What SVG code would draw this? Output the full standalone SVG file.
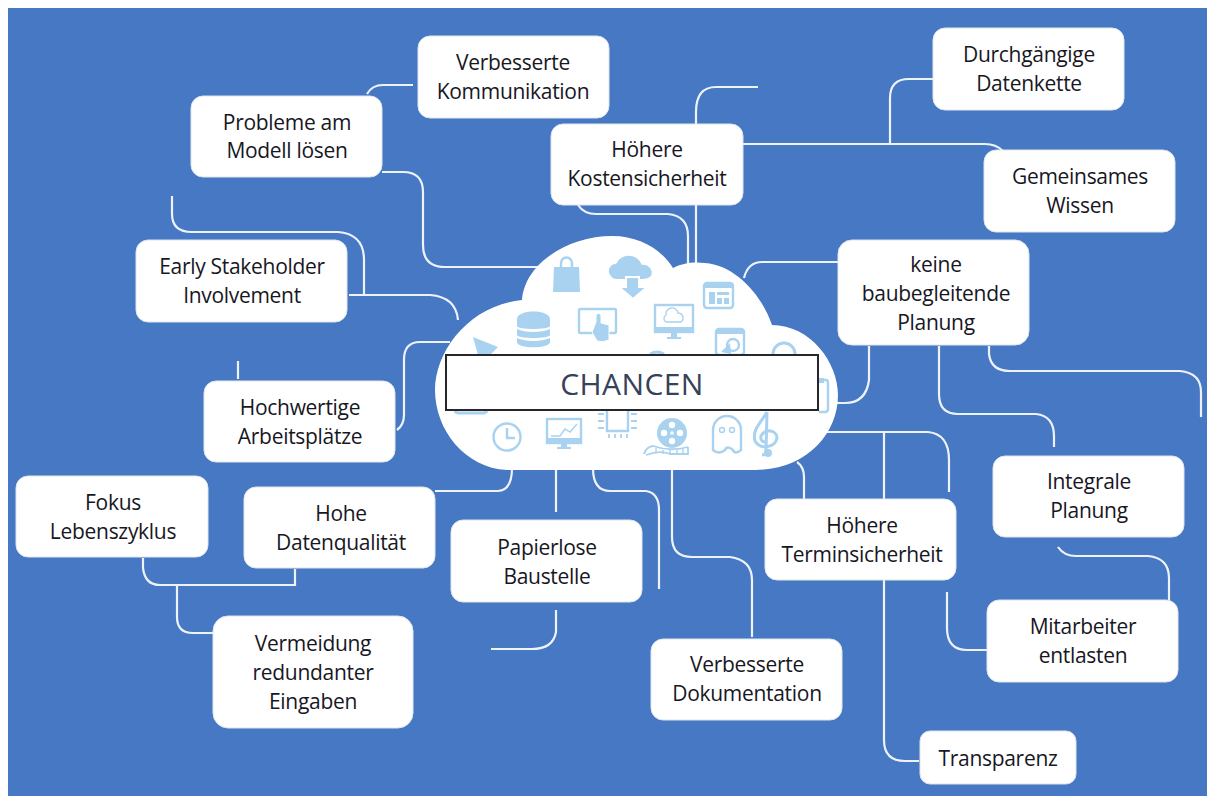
<svg xmlns="http://www.w3.org/2000/svg" width="1215" height="796" viewBox="0 0 1215 796">
<style>
.c{fill:none;stroke:#eef3fb;stroke-width:2.2;stroke-linecap:butt}
.b{fill:#fff;stroke:#dfe5ee;stroke-width:1}
text{font-family:"Open Sans","Noto Sans","Liberation Sans",sans-serif;font-size:21px;letter-spacing:-.3px;fill:#17171f;text-anchor:middle}
.i{fill:none;stroke:#a8d2f0;stroke-width:2.4}
.f{fill:#a8d2f0}
.w{fill:#fff}
</style>
<rect width="1215" height="796" fill="#fff"/>
<rect x="8" y="8" width="1199" height="788" fill="#4678c4"/>
<g id="connectors">
<path class="c" d="M367,94Q372,85 383,85H413"/>
<path class="c" d="M382,172H403Q423,172 423,192V245Q423,267 445,267H540"/>
<path class="c" d="M172,196V214Q172,232 192,232H338Q364,234 364,260V295"/>
<path class="c" d="M349,295H430Q456,297 458,320"/>
<path class="c" d="M397,430Q404,425 404,415V360Q404,342 420,342H450"/>
<path class="c" d="M238,361V379"/>
<path class="c" d="M435,491H498Q512,490 512,468"/>
<path class="c" d="M556,468V512"/>
<path class="c" d="M593,468Q593,491 610,491H646Q659,493 659,510V589"/>
<path class="c" d="M672,468V537Q672,557 692,557H730Q752,560 752,580V637"/>
<path class="c" d="M797,462Q804,467 804,477V499"/>
<path class="c" d="M556,610V632Q553,649 532,649H491"/>
<path class="c" d="M826,432H928Q949,434 949,460V492"/>
<path class="c" d="M884,432V500"/>
<path class="c" d="M884,580V740Q884,761 905,761H919"/>
<path class="c" d="M947,592V628Q947,650 967,650H987"/>
<path class="c" d="M1058,547Q1064,556 1076,556H1148Q1169,558 1169,578V600"/>
<path class="c" d="M939,346V394Q939,414 958,414H1036Q1054,416 1054,436V447"/>
<path class="c" d="M989,346V354Q991,371 1010,371H1180Q1201,373 1201,392V417"/>
<path class="c" d="M869,346V380Q866,403 845,403H830"/>
<path class="c" d="M744,278Q748,262 762,262H838"/>
<path class="c" d="M743,144H985Q996,144 1003,151"/>
<path class="c" d="M890,144V98Q890,79 909,79H933"/>
<path class="c" d="M696,265V112Q696,87 716,87H758"/>
<path class="c" d="M578,205Q584,214 596,214H668Q688,216 688,236V268"/>
<path class="c" d="M143,558V568Q145,585 160,585H295V569"/>
<path class="c" d="M177,585V617Q177,633 193,633H213"/>
</g>
<g id="cloud">
<path fill="#fff" d="M507,470C465,468 435,430 435,390C435,350 470,305 522,300C525,262 570,236 612,236C640,236 662,250 673,268C685,262 695,262 705,263C735,265 762,295 772,325C810,325 838,362 838,395C838,435 805,470 755,470Z"/>
<g id="icons">
<path class="f" d="M554,267H579L580,292H553Z"/><path class="i" d="M561,268V263A5.500,5.500 0 0 1 572,263V268"/>
<path class="f" d="M611,276A7,7 0 0 1 616,264A14,14 0 0 1 642,265A8,8 0 0 1 651,276Q648,279 642,279H617Q612,279 611,276Z"/>
<path class="f" stroke="#fff" stroke-width="2" d="M626,277H639V287H647L633,299L619,287H626Z"/>
<rect class="i" x="704" y="283" width="29" height="25" rx="3"/><rect class="f" x="704" y="283" width="29" height="5"/><rect class="f" x="709" y="292" width="6" height="12"/><rect class="f" x="717" y="292" width="12" height="3"/><rect class="f" x="717" y="298" width="5" height="6"/><rect class="f" x="724" y="298" width="5" height="6"/>
<path class="f" d="M517,319C517,309 550,309 550,319V326C550,330 517,330 517,326ZM517,329C525,333 542,333 550,329V335C550,339 517,339 517,335ZM517,338C525,342 542,342 550,338V342C550,349 517,349 517,342Z"/>
<rect class="i" x="579" y="309" width="37" height="24" rx="1.500"/>
<path class="f" stroke="#fff" stroke-width="1" d="M596,322V316A2,2 0 0 1 601,316V323L609,325V340Q603,343 597,341L592,332Z"/>
<rect class="i" x="655" y="305" width="38" height="27"/><path class="f" d="M655,327H693V333H655ZM671,333H677V337H681V339H667V337H671Z"/>
<path class="i" style="stroke-width:1.400" d="M666,322A4,4 0 0 1 666,315A6,6 0 0 1 678,313A5,5 0 0 1 681,322Z"/>
<rect class="i" x="716" y="329" width="28" height="26" rx="3"/><rect class="f" x="716" y="329" width="28" height="5"/>
<circle class="i" cx="733" cy="345" r="6"/><path class="f" d="M721,352L730,343L731,354Z"/>
<path class="f" d="M473,337L498,347L490,355H478Z"/>
<path class="i" style="stroke-width:3" d="M773,354A11,11 0 0 1 795,354"/>
<path class="i" style="stroke-width:3" d="M650,354Q657,350 664,354"/>
<path class="i" d="M819,380H826Q828,380 828,383V409Q828,412 825,412H819"/><rect class="f" x="818" y="378" width="6" height="5"/>
<path class="i" style="stroke-width:3" d="M455,411Q456,413 460,413H482Q486,413 487,411"/>
<path class="i" d="M607,410V431H628V410"/>
<path class="i" style="stroke-width:1.800" d="M598,414H604M598,421H604M598,428H604M631,414H637M631,421H637M631,428H637M609,434V438M615,434V438M621,434V438M627,434V438"/>
<circle class="i" cx="507" cy="437" r="13.500"/><path class="i" d="M507,428V438H515"/>
<rect class="i" x="547" y="419" width="34" height="24"/><path class="f" d="M547,438H581V444H547ZM561,444H567V447H571V449H557V447H561Z"/>
<path class="i" style="stroke-width:1.400" d="M551,436H560L565,429L570,432L577,424"/>
<circle class="f" cx="672" cy="433" r="15"/>
<g class="w"><circle cx="672" cy="425" r="3.200"/><circle cx="672" cy="441" r="3.200"/><circle cx="664" cy="433" r="3.200"/><circle cx="680" cy="433" r="3.200"/><circle cx="672" cy="433" r="1.800"/></g>
<path class="i" style="stroke-width:1.800" d="M644,454Q646,447 653,446Q670,452 688,447M646,455Q660,450 670,454H688V447"/>
<path class="i" style="stroke-width:1.400" d="M656,448V453M663,450V454M670,450V454M677,450V454M683,449V454"/>
<path class="i" d="M713,450V430A14,14 0 0 1 741,430V450Q735,455 733,450Q727,445 725,450Q719,455 713,450Z"/>
<circle class="i" style="stroke-width:1.400" cx="722" cy="430" r="2.500"/><circle class="i" style="stroke-width:1.400" cx="732" cy="430" r="2.500"/>
<path class="i" style="stroke-width:3" d="M767,412C760,424 752,430 755,441C760,450 775,448 777,438C777,430 765,428 761,436C760,440 763,443 767,442M767,412L766,450Q766,455 762,455"/><circle class="f" cx="768" cy="453" r="4"/>
</g>
</g>
<g id="node-chancen"><rect x="446" y="355" width="372" height="55" fill="#fff" stroke="#26262c" stroke-width="2"/><text x="632" y="395" style="font-size:30px;letter-spacing:.4px;fill:#36415a">CHANCEN</text></g>
<g id="node-kommunikation"><rect class="b" x="418" y="36" width="191" height="82" rx="12"/><text x="513" y="70">Verbesserte</text><text x="513" y="99">Kommunikation</text></g>
<g id="node-probleme"><rect class="b" x="191" y="96" width="191" height="81" rx="12"/><text x="287" y="130">Probleme am</text><text x="287" y="158">Modell lösen</text></g>
<g id="node-kosten"><rect class="b" x="551" y="124" width="192" height="81" rx="12"/><text x="647" y="157">Höhere</text><text x="647" y="186">Kostensicherheit</text></g>
<g id="node-datenkette"><rect class="b" x="933" y="28" width="191" height="82" rx="12"/><text x="1029" y="62">Durchgängige</text><text x="1029" y="91">Datenkette</text></g>
<g id="node-wissen"><rect class="b" x="984" y="150" width="191" height="82" rx="12"/><text x="1080" y="184">Gemeinsames</text><text x="1080" y="213">Wissen</text></g>
<g id="node-stakeholder"><rect class="b" x="136" y="240" width="211" height="82" rx="12"/><text x="242" y="274">Early Stakeholder</text><text x="242" y="303">Involvement</text></g>
<g id="node-planung"><rect class="b" x="838" y="240" width="191" height="105" rx="14"/><text x="936" y="272">keine</text><text x="936" y="301">baubegleitende</text><text x="936" y="330">Planung</text></g>
<g id="node-arbeitsplaetze"><rect class="b" x="204" y="381" width="191" height="81" rx="12"/><text x="300" y="415">Hochwertige</text><text x="300" y="444">Arbeitsplätze</text></g>
<g id="node-lebenszyklus"><rect class="b" x="16" y="476" width="192" height="81" rx="12"/><text x="113" y="510">Fokus</text><text x="113" y="539">Lebenszyklus</text></g>
<g id="node-datenqualitaet"><rect class="b" x="244" y="487" width="191" height="81" rx="12"/><text x="341" y="521">Hohe</text><text x="341" y="550">Datenqualität</text></g>
<g id="node-eingaben"><rect class="b" x="213" y="616" width="200" height="112" rx="15"/><text x="313" y="651">Vermeidung</text><text x="313" y="680">redundanter</text><text x="313" y="709">Eingaben</text></g>
<g id="node-baustelle"><rect class="b" x="451" y="520" width="191" height="82" rx="12"/><text x="547" y="555">Papierlose</text><text x="547" y="584">Baustelle</text></g>
<g id="node-dokumentation"><rect class="b" x="651" y="639" width="191" height="81" rx="12"/><text x="747" y="672">Verbesserte</text><text x="747" y="701">Dokumentation</text></g>
<g id="node-termin"><rect class="b" x="765" y="499" width="191" height="81" rx="12"/><text x="862" y="533">Höhere</text><text x="862" y="562">Terminsicherheit</text></g>
<g id="node-integrale"><rect class="b" x="993" y="456" width="191" height="81" rx="12"/><text x="1089" y="489">Integrale</text><text x="1089" y="518">Planung</text></g>
<g id="node-mitarbeiter"><rect class="b" x="987" y="600" width="191" height="82" rx="12"/><text x="1083" y="634">Mitarbeiter</text><text x="1083" y="663">entlasten</text></g>
<g id="node-transparenz"><rect class="b" x="920" y="731" width="156" height="53" rx="10"/><text x="998" y="766">Transparenz</text></g>
</svg>
